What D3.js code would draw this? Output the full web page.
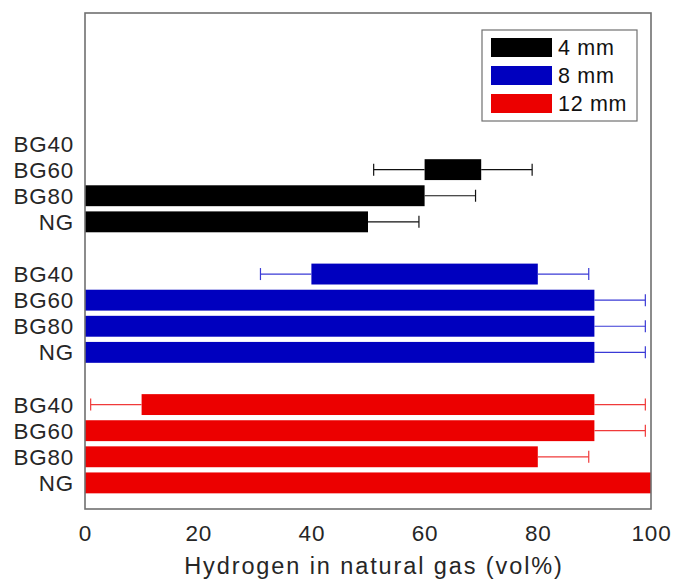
<!DOCTYPE html>
<html>
<head>
<meta charset="utf-8">
<script src="https://cdn.jsdelivr.net/npm/d3@7"></script>
<style>
  html, body { margin: 0; padding: 0; background: #fff; }
  svg { display: block; font-family: "Liberation Sans", Arial, Helvetica, sans-serif; }
</style>
</head>
<body>
<svg id="chart" width="674" height="579"></svg>
<script>
// Burner gap sizes (series) and fuel blends (categories)
const series = ["4 mm", "8 mm", "12 mm"];
const seriesColors = ["#000000", "#0000bf", "#ec0000"];
const categories = ["BG40", "BG60", "BG80", "NG"];

// Range of hydrogen content (vol%) per blend: bar start and end, null = no bar
const barStart = [
  [null, 60, 0, 0],
  [40, 0, 0, 0],
  [10, 0, 0, 0]
];
const barEnd = [
  [null, 70, 60, 50],
  [80, 90, 90, 90],
  [90, 90, 80, 100]
];
// Uncertainty below the start and above the end of each range
const errLow = [
  [0, 9, 0, 0],
  [9, 0, 0, 0],
  [9, 0, 0, 0]
];
const errHigh = [
  [0, 9, 9, 9],
  [9, 9, 9, 9],
  [9, 9, 9, 0]
];
const xTicks = [0, 20, 40, 60, 80, 100];
const xLabel = "Hydrogen in natural gas (vol%)";

const svg = d3.select("#chart");
const mLeft = 85, mRight = 651, mTop = 13, mBottom = 509;

const x = d3.scaleLinear().domain([0, 100]).range([mLeft, mRight]);
const y = d3.scaleLinear().domain([0, 19]).range([mBottom, mTop]);
const slot = (mBottom - mTop) / 19;
const barH = slot * 0.8;

// Row position: groups stacked from the top, one blank slot between groups
const rowPos = (g, i) => 14 - (g * 5 + i);

const rows = [];
series.forEach((s, g) => {
  categories.forEach((c, i) => {
    rows.push({ g, i, cat: c, start: barStart[g][i], end: barEnd[g][i],
                lo: errLow[g][i], hi: errHigh[g][i], pos: rowPos(g, i) });
  });
});

const plot = svg.append("g");

// Bars
plot.selectAll("rect.bar")
  .data(rows.filter(d => d.start !== null))
  .join("rect")
  .attr("class", "bar")
  .attr("x", d => x(d.start))
  .attr("width", d => x(d.end) - x(d.start))
  .attr("y", d => y(d.pos) - barH / 2)
  .attr("height", barH)
  .attr("fill", d => seriesColors[d.g]);

// Error whiskers with caps
const capH = 12;
const whiskers = [];
rows.filter(d => d.start !== null).forEach(d => {
  if (d.hi > 0) whiskers.push({ g: d.g, pos: d.pos, a: d.end, b: d.end + d.hi });
  if (d.lo > 0) whiskers.push({ g: d.g, pos: d.pos, a: d.start, b: d.start - d.lo });
});
const wg = plot.selectAll("g.whisker").data(whiskers).join("g").attr("class", "whisker")
  .attr("stroke", d => d.g === 0 ? "#111" : d.g === 1 ? "#3a3ad6" : "#f03a3a")
  .attr("stroke-width", 1.2);
wg.append("line")
  .attr("x1", d => x(d.a)).attr("x2", d => x(d.b))
  .attr("y1", d => y(d.pos)).attr("y2", d => y(d.pos));
wg.append("line")
  .attr("x1", d => x(d.b)).attr("x2", d => x(d.b))
  .attr("y1", d => y(d.pos) - capH / 2).attr("y2", d => y(d.pos) + capH / 2);

// Plot frame
svg.append("rect")
  .attr("x", mLeft).attr("y", mTop)
  .attr("width", mRight - mLeft).attr("height", mBottom - mTop)
  .attr("fill", "none").attr("stroke", "#707070").attr("stroke-width", 1.6);

// Category labels on the left
svg.append("g").selectAll("text")
  .data(rows)
  .join("text")
  .attr("x", mLeft - 11)
  .attr("y", d => y(d.pos))
  .attr("dy", "0.36em")
  .attr("text-anchor", "end")
  .attr("font-size", 22.4)
  .attr("letter-spacing", 0.8)
  .attr("fill", "#262626")
  .text(d => d.cat);

// X axis labels
const xAxis = d3.axisBottom(x).tickValues(xTicks).tickSize(0).tickPadding(0);
const xg = svg.append("g").attr("transform", `translate(0,${mBottom})`).call(xAxis);
xg.select(".domain").remove();
xg.selectAll("text")
  .attr("y", 32)
  .attr("dy", 0)
  .attr("font-size", 22.5)
  .attr("letter-spacing", 0.8)
  .attr("font-family", "Liberation Sans, Arial, sans-serif")
  .attr("fill", "#262626");

svg.append("text")
  .attr("x", (mLeft + mRight) / 2 + 6)
  .attr("y", 574)
  .attr("text-anchor", "middle")
  .attr("font-size", 23.5)
  .attr("letter-spacing", 1.9)
  .attr("fill", "#262626")
  .text(xLabel);

// Legend
const lg = svg.append("g");
lg.append("rect")
  .attr("x", 482).attr("y", 30).attr("width", 155).attr("height", 91)
  .attr("fill", "#fff").attr("stroke", "#707070").attr("stroke-width", 1.2);
series.forEach((s, g) => {
  const cy = 47.5 + g * 28;
  lg.append("rect")
    .attr("x", 491).attr("y", cy - 9.5).attr("width", 61).attr("height", 19)
    .attr("fill", seriesColors[g]);
  lg.append("text")
    .attr("x", 558).attr("y", cy).attr("dy", "0.36em")
    .attr("font-size", 21.5)
    .attr("letter-spacing", 0.7)
    .attr("fill", "#111")
    .text(s);
});
</script>
</body>
</html>
